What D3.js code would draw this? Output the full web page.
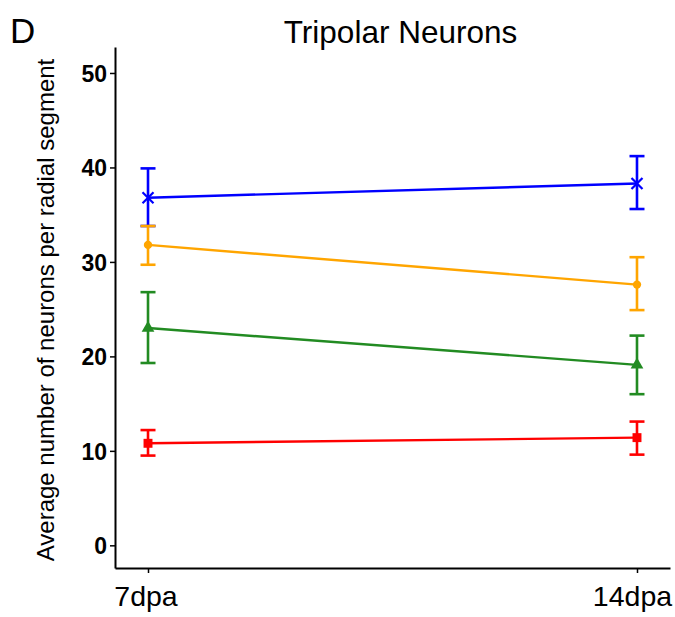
<!DOCTYPE html>
<html><head><meta charset="utf-8">
<script src="https://cdn.jsdelivr.net/npm/d3@7"></script>
<style>body{margin:0;background:#fff}svg{display:block}text{font-family:"Liberation Sans",Arial,sans-serif}</style>
</head><body><svg id="chart" width="675" height="617"></svg>
<script>
const categories = ["7dpa", "14dpa"];
const seriesNames = ["blue", "orange", "green", "red"];
const meanBlue = [36.8, 38.3];
const lowBlue = [33.8, 35.6];
const highBlue = [39.9, 41.2];
const meanOrange = [31.8, 27.6];
const lowOrange = [29.7, 24.9];
const highOrange = [33.8, 30.5];
const meanGreen = [23.0, 19.1];
const lowGreen = [19.3, 16.0];
const highGreen = [26.8, 22.2];
const meanRed = [10.8, 11.4];
const lowRed = [9.5, 9.6];
const highRed = [12.2, 13.1];
const yTicks = [0, 10, 20, 30, 40, 50];

const series = [
  {name: "blue", color: "#0000ff", shape: "cross", mean: meanBlue, low: lowBlue, high: highBlue},
  {name: "orange", color: "#ffa500", shape: "circle", mean: meanOrange, low: lowOrange, high: highOrange},
  {name: "green", color: "#228b22", shape: "triangle", mean: meanGreen, low: lowGreen, high: highGreen},
  {name: "red", color: "#ff0000", shape: "square", mean: meanRed, low: lowRed, high: highRed}
];

const svg = d3.select("#chart");
const x = d3.scalePoint().domain(categories).range([115, 670]).padding(0.0675);
const y = d3.scaleLinear().domain([-2.4, 52.75]).range([568, 47]);

// axes
const yAxis = svg.append("g").attr("transform", "translate(115,0)")
  .call(d3.axisLeft(y).tickValues(yTicks).tickSize(5).tickPadding(3).tickSizeOuter(0));
yAxis.select(".domain").attr("stroke", "#000").attr("stroke-width", 2);
yAxis.selectAll(".tick line").attr("stroke", "#000").attr("stroke-width", 1.5);
yAxis.selectAll(".tick text").attr("font-size", 23).attr("font-weight", "bold").attr("fill", "#000")
  .attr("dy", "0.36em");

const xAxis = svg.append("g").attr("transform", "translate(0,568)")
  .call(d3.axisBottom(x).tickSize(5).tickPadding(13).tickSizeOuter(0));
xAxis.select(".domain").attr("stroke", "#000").attr("stroke-width", 2);
xAxis.selectAll(".tick line").attr("stroke", "#000").attr("stroke-width", 1.5);
xAxis.selectAll(".tick text").attr("font-size", 28.5).attr("fill", "#000")
  .attr("dx", (d, i) => i === 0 ? -2.5 : -5);

// lines, error bars, markers
const line = d3.line().x((d, i) => x(categories[i])).y(d => y(d));
const capW = 7.5;
series.forEach(s => {
  const g = svg.append("g");
  g.append("path").attr("d", line(s.mean)).attr("fill", "none")
    .attr("stroke", s.color).attr("stroke-width", 2.4);
  categories.forEach((c, i) => {
    const cx = x(c);
    g.append("line").attr("x1", cx).attr("x2", cx).attr("y1", y(s.low[i])).attr("y2", y(s.high[i]))
      .attr("stroke", s.color).attr("stroke-width", 2.6);
    [s.low[i], s.high[i]].forEach(v => {
      g.append("line").attr("x1", cx - capW).attr("x2", cx + capW).attr("y1", y(v)).attr("y2", y(v))
        .attr("stroke", s.color).attr("stroke-width", 2.6);
    });
    const py = y(s.mean[i]);
    if (s.shape === "cross") {
      g.append("path").attr("d", `M${cx-5.5},${py-5.5}L${cx+5.5},${py+5.5}M${cx-5.5},${py+5.5}L${cx+5.5},${py-5.5}`)
        .attr("stroke", s.color).attr("stroke-width", 2.2);
    } else {
      const type = {circle: d3.symbolCircle, triangle: d3.symbolTriangle, square: d3.symbolSquare}[s.shape];
      const size = {circle: 55, triangle: 70, square: 80}[s.shape];
      g.append("path").attr("d", d3.symbol().type(type).size(size)())
        .attr("transform", `translate(${cx},${py})`).attr("fill", s.color);
    }
  });
});

// texts
svg.append("text").attr("x", 400.5).attr("y", 43).attr("text-anchor", "middle")
  .attr("font-size", 31.5).attr("fill", "#000").text("Tripolar Neurons");
svg.append("text").attr("x", 10).attr("y", 43).attr("font-size", 35).attr("fill", "#000").text("D");
svg.append("text").attr("transform", "translate(54,310) rotate(-90)").attr("text-anchor", "middle")
  .attr("font-size", 24).attr("fill", "#000").text("Average number of neurons per radial segment");
</script></body></html>
